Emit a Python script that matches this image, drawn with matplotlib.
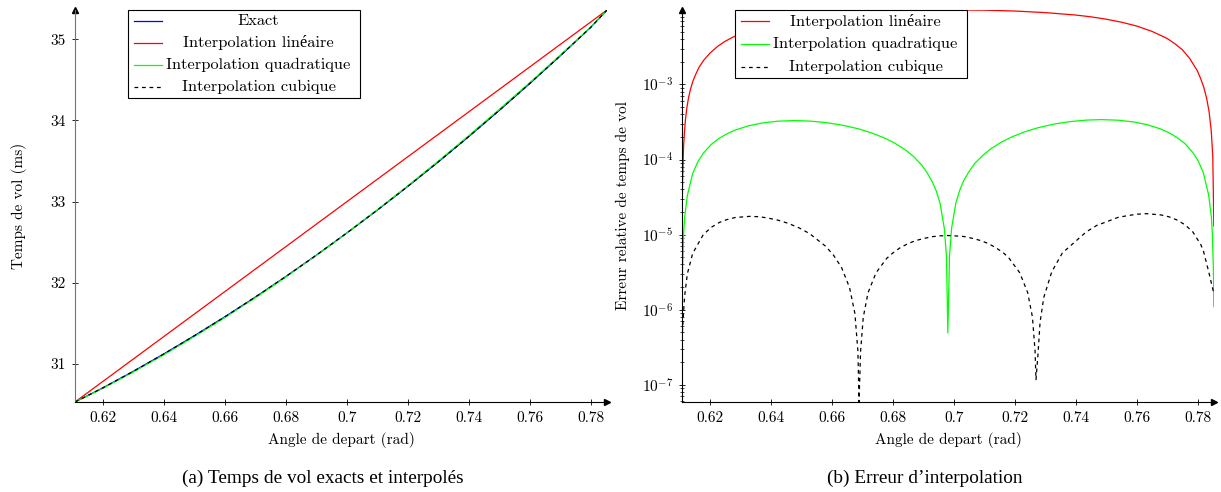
import matplotlib
matplotlib.use("Agg")
import matplotlib.pyplot as plt
from matplotlib.patches import Rectangle
from matplotlib.lines import Line2D
from matplotlib.ticker import FixedLocator, FuncFormatter, LogLocator, NullFormatter

plt.rcParams['font.family'] = ['cmr10', 'Liberation Serif', 'DejaVu Serif']
plt.rcParams['mathtext.fontset'] = 'cm'
plt.rcParams['axes.formatter.use_mathtext'] = True

# ---- (a) temps de vol (ms) en fonction de l'angle (rad)
angle_a = [0.61087, 0.62, 0.63, 0.64, 0.65, 0.66, 0.67, 0.68, 0.69, 0.70,
           0.71, 0.72, 0.73, 0.74, 0.75, 0.76, 0.77, 0.78, 0.7854]
t_exact = [30.530, 30.704, 30.908, 31.122, 31.346, 31.579, 31.822, 32.075, 32.338, 32.611,
           32.893, 33.185, 33.487, 33.799, 34.121, 34.452, 34.793, 35.144, 35.360]
angle_lin = [0.61087, 0.7854]
t_lin = [30.530, 35.360]
t_quad = [30.530, 30.699, 30.900, 31.112, 31.336, 31.570, 31.814, 32.070, 32.335, 32.612,
          32.897, 33.192, 33.496, 33.810, 34.133, 34.463, 34.801, 35.148, 35.360]
t_cub = [30.530, 30.704, 30.908, 31.122, 31.346, 31.579, 31.822, 32.075, 32.338, 32.611,
         32.893, 33.185, 33.487, 33.799, 34.121, 34.452, 34.793, 35.144, 35.360]

# ---- (b) erreur relative
lin_x = [0.61093, 0.61104, 0.61139, 0.6117, 0.6120, 0.6125, 0.6130, 0.6137, 0.6145, 0.6155,
         0.6165, 0.618, 0.620, 0.6225, 0.625, 0.6275, 0.630, 0.635, 0.640, 0.645,
         0.650, 0.660, 0.670, 0.680, 0.690, 0.700, 0.710, 0.720, 0.730, 0.740,
         0.745, 0.750, 0.755, 0.760, 0.765, 0.770, 0.7725, 0.775, 0.7775, 0.780,
         0.781, 0.782, 0.783, 0.7838, 0.7845, 0.7850, 0.78535]
lin_err = [1.7e-5, 5e-5, 1.5e-4, 2.4e-4, 3.4e-4, 5e-4, 6.6e-4, 8.8e-4, 1.12e-3, 1.4e-3,
           1.7e-3, 2.1e-3, 2.6e-3, 3.2e-3, 3.75e-3, 4.25e-3, 4.7e-3, 5.5e-3, 6.2e-3, 6.8e-3,
           7.35e-3, 8.25e-3, 8.9e-3, 9.4e-3, 9.7e-3, 9.8e-3, 9.75e-3, 9.5e-3, 9.05e-3, 8.4e-3,
           7.95e-3, 7.4e-3, 6.75e-3, 6.0e-3, 5.1e-3, 4.1e-3, 3.5e-3, 2.9e-3, 2.2e-3, 1.5e-3,
           1.2e-3, 9.3e-4, 6.5e-4, 4.3e-4, 2.4e-4, 1.1e-4, 1.3e-5]

quad_x = [0.61093, 0.61104, 0.61139, 0.61174, 0.61262, 0.61436, 0.6161, 0.61785, 0.62047, 0.62309,
          0.62571, 0.62832, 0.63269, 0.63705, 0.64229, 0.64777, 0.65276, 0.65802, 0.66323, 0.66849,
          0.67283, 0.67722, 0.68068, 0.68420, 0.68679, 0.68943, 0.69115, 0.69292, 0.69430, 0.69554,
          0.69694, 0.69764, 0.69808, 0.69864, 0.69934, 0.70073, 0.70198, 0.70335, 0.70512, 0.70684,
          0.70948, 0.71208, 0.71559, 0.71906, 0.72344, 0.72778, 0.73304, 0.73826, 0.74351, 0.74850,
          0.75398, 0.75919, 0.76359, 0.76792, 0.77057, 0.77315, 0.77580, 0.77839, 0.78016, 0.78188,
          0.78362, 0.78453, 0.78485, 0.78520, 0.78534]
quad_err = [1.15e-6, 3.4e-6, 1.0e-5, 1.7e-5, 3.3e-5, 6.5e-5, 9.4e-5, 1.21e-4, 1.59e-4, 1.92e-4,
            2.21e-4, 2.47e-4, 2.81e-4, 3.06e-4, 3.24e-4, 3.3e-4, 3.25e-4, 3.11e-4, 2.88e-4, 2.58e-4,
            2.28e-4, 1.94e-4, 1.65e-4, 1.34e-4, 1.1e-4, 8.5e-5, 6.8e-5, 5.1e-5, 3.8e-5, 2.6e-5,
            1.2e-5, 5.1e-6, 4.9e-7, 5.3e-6, 1.24e-5, 2.65e-5, 3.9e-5, 5.3e-5, 7.0e-5, 8.8e-5,
            1.13e-4, 1.38e-4, 1.7e-4, 2.0e-4, 2.35e-4, 2.66e-4, 2.97e-4, 3.2e-4, 3.35e-4, 3.4e-4,
            3.34e-4, 3.16e-4, 2.9e-4, 2.55e-4, 2.28e-4, 1.98e-4, 1.64e-4, 1.25e-4, 9.7e-5, 6.7e-5,
            3.4e-5, 1.74e-5, 1.05e-5, 3.5e-6, 1.1e-6]

cub_x = [0.61100, 0.61139, 0.61174, 0.61262, 0.61436, 0.61785, 0.62047, 0.62309, 0.62571, 0.62832,
         0.63309, 0.63618, 0.63879, 0.64229, 0.64577, 0.64927, 0.65275, 0.65799, 0.66061, 0.66322,
         0.66584, 0.66759, 0.66858, 0.66894, 0.66920, 0.66946, 0.67033, 0.67190, 0.67452, 0.67801,
         0.67981, 0.68237, 0.68505, 0.68761, 0.69028, 0.69284, 0.69552, 0.69808, 0.70075, 0.70331,
         0.70599, 0.70855, 0.71122, 0.71378, 0.71646, 0.71815, 0.72164, 0.72426, 0.72583, 0.72670,
         0.72700, 0.72764, 0.72834, 0.72956, 0.73218, 0.73566, 0.74352, 0.74700, 0.75050, 0.75398,
         0.75748, 0.76009, 0.76319, 0.76795, 0.77057, 0.77318, 0.77580, 0.77842, 0.78104, 0.78191,
         0.78366, 0.78460, 0.78525]
cub_err = [5e-7, 9.5e-7, 1.53e-6, 3.0e-6, 5.6e-6, 1.0e-5, 1.25e-5, 1.45e-5, 1.59e-5, 1.69e-5,
           1.75e-5, 1.73e-5, 1.67e-5, 1.56e-5, 1.41e-5, 1.23e-5, 1.03e-5, 7.0e-6, 5.3e-6, 3.64e-6,
           1.97e-6, 8.9e-7, 2.8e-7, 5.9e-8, 1.25e-7, 2.8e-7, 7.9e-7, 1.68e-6, 3.1e-6, 4.82e-6,
           5.6e-6, 6.66e-6, 7.6e-6, 8.34e-6, 8.9e-6, 9.37e-6, 9.63e-6, 9.72e-6, 9.6e-6, 9.44e-6,
           8.95e-6, 8.4e-6, 7.65e-6, 6.72e-6, 5.65e-6, 4.86e-6, 3.12e-6, 1.7e-6, 8.0e-7, 2.8e-7,
           1.17e-7, 2.5e-7, 6.8e-7, 1.46e-6, 3.2e-6, 5.7e-6, 1.09e-5, 1.33e-5, 1.5e-5, 1.7e-5,
           1.8e-5, 1.87e-5, 1.9e-5, 1.83e-5, 1.73e-5, 1.57e-5, 1.36e-5, 1.09e-5, 7.4e-6, 6.1e-6,
           3.2e-6, 2.2e-6, 1.7e-6]

x_ticks = [0.62, 0.64, 0.66, 0.68, 0.70, 0.72, 0.74, 0.76, 0.78]
y_ticks_a = [31, 32, 33, 34, 35]
labels_a = ['Exact', 'Interpolation linéaire', 'Interpolation quadratique', 'Interpolation cubique']
labels_b = ['Interpolation linéaire', 'Interpolation quadratique', 'Interpolation cubique']
xlabel = 'Angle de depart (rad)'
ylabel_a = 'Temps de vol (ms)'
ylabel_b = 'Erreur relative de temps de vol'
caption_a = '(a) Temps de vol exacts et interpolés'
caption_b = '(b) Erreur d’interpolation'

W, H = 1221, 492
fig = plt.figure(figsize=(W / 100, H / 100), dpi=100)
ax1 = fig.add_axes([75 / W, 90 / H, 532 / W, 392 / H])
ax2 = fig.add_axes([682 / W, 90 / H, 532 / W, 392 / H])

lw = 0.9
ax1.plot(angle_a, t_exact, color=(0, 0, 1), lw=lw)
ax1.plot(angle_lin, t_lin, color=(1, 0, 0), lw=lw)
ax1.plot(angle_a, t_quad, color=(0, 1, 0), lw=lw)
ax1.plot(angle_a, t_cub, color='k', lw=lw, dashes=(3, 3))

ax2.plot(lin_x, lin_err, color=(1, 0, 0), lw=lw)
ax2.plot(quad_x, quad_err, color=(0, 1, 0), lw=lw)
ax2.plot(cub_x, cub_err, color='k', lw=lw, dashes=(3, 3))
ax2.set_yscale('log')

ax1.set_xlim(0.61087, 0.7854)
ax1.set_ylim(min(t_exact), max(t_exact))
ax2.set_xlim(0.61087, 0.7854)
ax2.set_ylim(min(cub_err), max(lin_err))

fmt = FuncFormatter(lambda v, p: '%g' % round(v, 4))
for ax in (ax1, ax2):
    ax.xaxis.set_major_locator(FixedLocator(x_ticks))
    ax.xaxis.set_major_formatter(fmt)
    for s in ('top', 'right'):
        ax.spines[s].set_visible(False)
    ax.spines['left'].set_linewidth(0.8)
    ax.spines['bottom'].set_linewidth(0.8)
    ax.tick_params(which='major', direction='inout', length=5, width=0.6, labelsize=11, pad=4)
    ax.tick_params(which='minor', direction='inout', length=3, width=0.5)
    ax.plot(1, 0, marker='>', color='k', ms=4, transform=ax.transAxes, clip_on=False)
    ax.plot(0, 1, marker='^', color='k', ms=4, transform=ax.transAxes, clip_on=False)
    ax.set_xlabel(xlabel, fontsize=11, labelpad=5)

ax1.yaxis.set_major_locator(FixedLocator(y_ticks_a))
ax1.yaxis.set_major_formatter(fmt)
ax1.spines['left'].set_color('0.45')
ax2.yaxis.set_major_locator(LogLocator(base=10))
ax2.yaxis.set_minor_locator(LogLocator(base=10, subs=range(2, 10)))
ax2.yaxis.set_minor_formatter(NullFormatter())

ax1.set_ylabel(ylabel_a, fontsize=11, labelpad=17)
ax2.set_ylabel(ylabel_b, fontsize=11, labelpad=8)


def legend_box(ax, labels, styles, ybot):
    ax.add_patch(Rectangle((0.1, ybot), 0.435, 1.0 - ybot, transform=ax.transAxes,
                           fc='white', ec='black', lw=0.8, zorder=5, clip_on=False))
    n = len(labels)
    step = (1.0 - ybot) / n
    for i, (lab, (col, dash)) in enumerate(zip(labels, styles)):
        y = 1.0 - step * (i + 0.5)
        ln = Line2D([0.11, 0.163], [y, y], transform=ax.transAxes, color=col, lw=lw,
                    zorder=6, clip_on=False)
        if dash:
            ln.set_dashes((3, 3))
        ax.add_line(ln)
        ax.text(0.345, y, lab, transform=ax.transAxes, ha='center', va='center',
                fontsize=11.8, zorder=6)


legend_box(ax1, labels_a, [((0, 0, 1), False), ((1, 0, 0), False), ((0, 1, 0), False), ('k', True)], 0.776)
legend_box(ax2, labels_b, [((1, 0, 0), False), ((0, 1, 0), False), ('k', True)], 0.827)

fig.text(323 / W, 1 - 478 / H, caption_a, ha='center', va='center', fontsize=13.9,
         family='Liberation Serif')
fig.text(925 / W, 1 - 478 / H, caption_b, ha='center', va='center', fontsize=13.9,
         family='Liberation Serif')

fig.savefig('out.png', dpi=100)
